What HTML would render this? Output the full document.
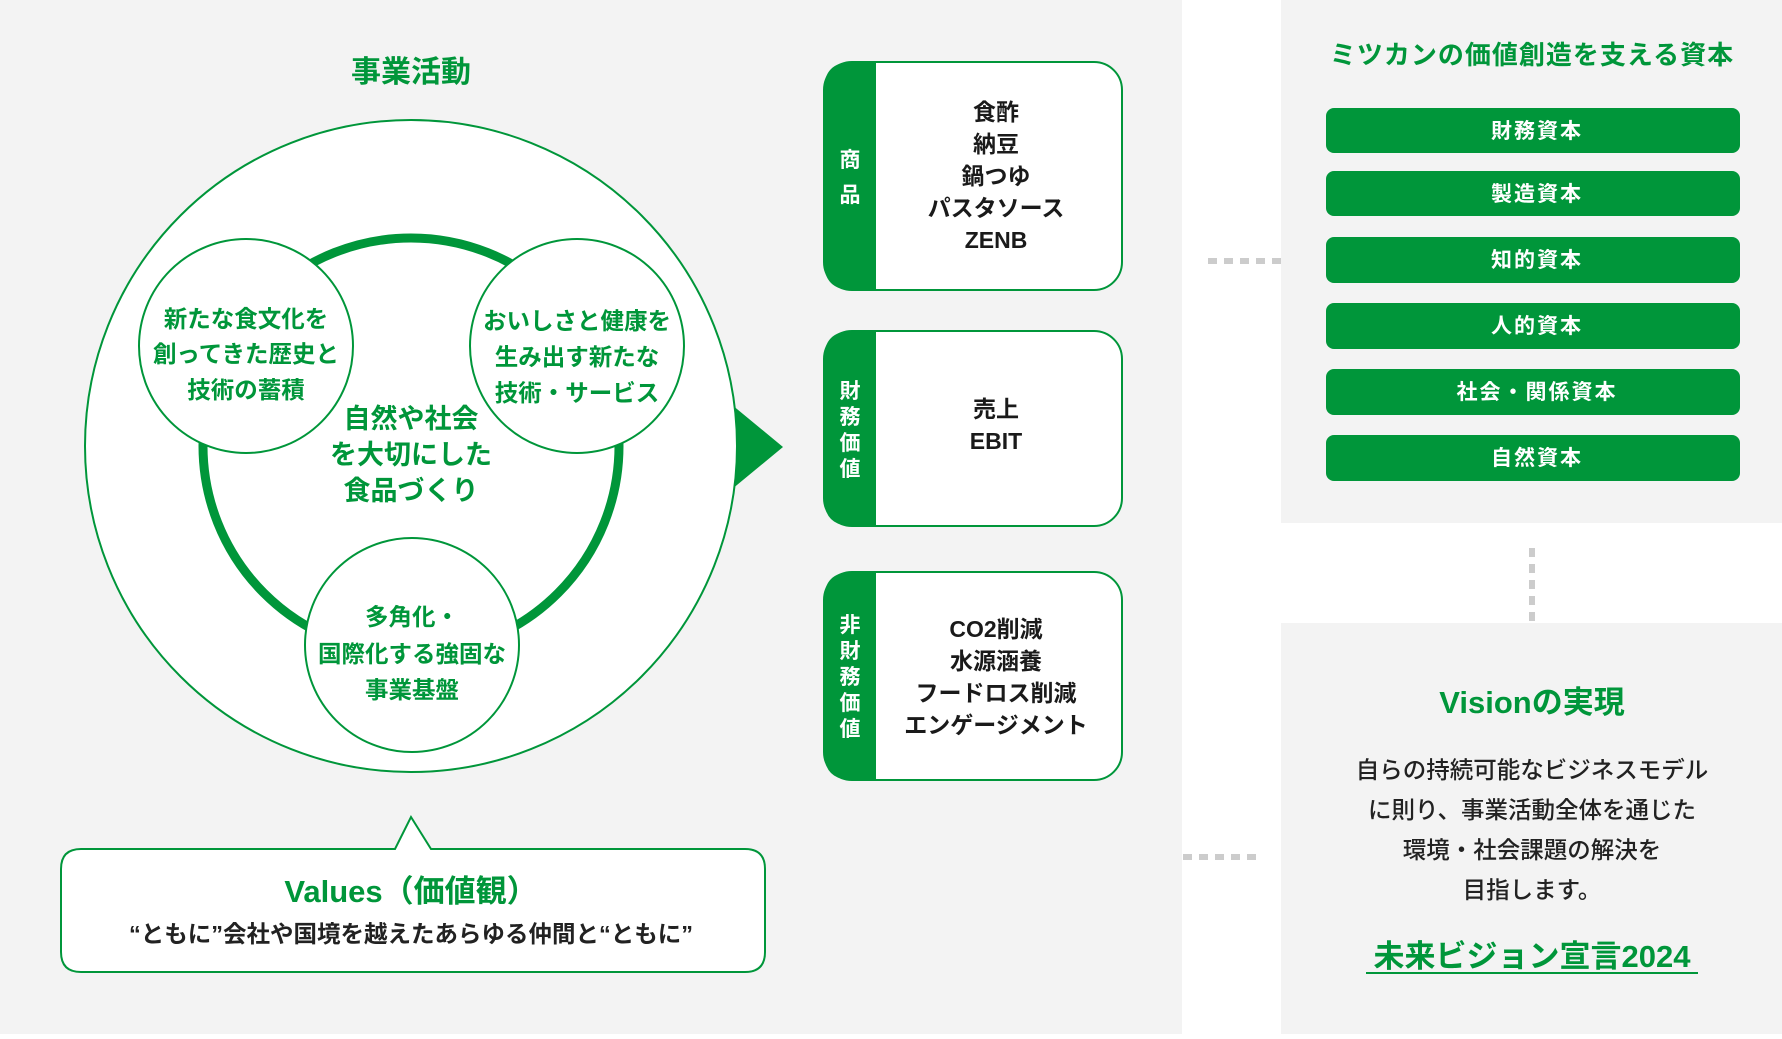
<!DOCTYPE html>
<html><head><meta charset="utf-8"><style>
html,body{margin:0;padding:0;}
body{width:1782px;height:1034px;overflow:hidden;background:#fff;}
svg text{font-family:"Liberation Sans","Noto Sans CJK JP",sans-serif;font-weight:bold;}
</style></head><body>
<svg width="1782" height="1034" viewBox="0 0 1782 1034" xmlns="http://www.w3.org/2000/svg">
<rect x="0" y="0" width="1182" height="1034" fill="#f3f3f3"/>
<rect x="1281" y="0" width="501" height="523" fill="#f3f3f3"/>
<rect x="1281" y="623" width="501" height="411" fill="#f3f3f3"/>

<line x1="1208" y1="261" x2="1281" y2="261" stroke="#ccc" stroke-width="6" stroke-dasharray="9,7"/>
<line x1="1183" y1="857" x2="1256" y2="857" stroke="#ccc" stroke-width="6" stroke-dasharray="9,7"/>
<line x1="1532" y1="548" x2="1532" y2="621" stroke="#ccc" stroke-width="6" stroke-dasharray="9,7"/>

<text x="411" y="82" font-size="30" fill="#00963a" text-anchor="middle">事業活動</text>

<polygon points="720,395 783,447 720,499" fill="#00963a"/>
<circle cx="411" cy="446" r="326" fill="#fff" stroke="#00963a" stroke-width="2"/>
<circle cx="411" cy="446" r="208" fill="none" stroke="#00963a" stroke-width="9"/>

<circle cx="246" cy="346" r="107" fill="#fff" stroke="#00963a" stroke-width="2"/>
<circle cx="577" cy="346" r="107" fill="#fff" stroke="#00963a" stroke-width="2"/>
<circle cx="412" cy="645" r="107" fill="#fff" stroke="#00963a" stroke-width="2"/>

<g font-size="23.5" fill="#00963a" text-anchor="middle">
<text x="246" y="327">新たな食文化を</text>
<text x="246" y="362">創ってきた歴史と</text>
<text x="246" y="398">技術の蓄積</text>
<text x="577" y="329">おいしさと健康を</text>
<text x="577" y="365">生み出す新たな</text>
<text x="577" y="401">技術・サービス</text>
<text x="412" y="625">多角化・</text>
<text x="412" y="662">国際化する強固な</text>
<text x="412" y="698">事業基盤</text>
</g>
<g font-size="27" fill="#00963a" text-anchor="middle">
<text x="411" y="428">自然や社会</text>
<text x="411" y="464">を大切にした</text>
<text x="411" y="500">食品づくり</text>
</g>

<path d="M81,849 L395,849 L411,817 L431,849 L745,849 Q765,849 765,869 L765,952 Q765,972 745,972 L81,972 Q61,972 61,952 L61,869 Q61,849 81,849 Z" fill="#fff" stroke="#00963a" stroke-width="2"/>
<text x="411" y="902" font-size="31" fill="#00963a" text-anchor="middle">Values（価値観）</text>
<text x="411" y="942" font-size="23.5" fill="#222" text-anchor="middle">“ともに”会社や国境を越えたあらゆる仲間と“ともに”</text>

<g>
<rect x="824" y="62" width="298" height="228" rx="28" fill="#fff" stroke="#00963a" stroke-width="2"/>
<path d="M876,62 L852,62 Q824,62 824,90 L824,262 Q824,290 852,290 L876,290 Z" fill="#00963a"/>
<rect x="824" y="331" width="298" height="195" rx="28" fill="#fff" stroke="#00963a" stroke-width="2"/>
<path d="M876,331 L852,331 Q824,331 824,359 L824,498 Q824,526 852,526 L876,526 Z" fill="#00963a"/>
<rect x="824" y="572" width="298" height="208" rx="28" fill="#fff" stroke="#00963a" stroke-width="2"/>
<path d="M876,572 L852,572 Q824,572 824,600 L824,752 Q824,780 852,780 L876,780 Z" fill="#00963a"/>
</g>
<g font-size="21" fill="#fff" text-anchor="middle">
<text x="850" y="167">商</text>
<text x="850" y="202">品</text>
<text x="850" y="398">財</text>
<text x="850" y="424">務</text>
<text x="850" y="450">価</text>
<text x="850" y="476">値</text>
<text x="850" y="632">非</text>
<text x="850" y="658">財</text>
<text x="850" y="684">務</text>
<text x="850" y="710">価</text>
<text x="850" y="736">値</text>
</g>
<g font-size="23" fill="#1a1a1a" text-anchor="middle">
<text x="996" y="120">食酢</text>
<text x="996" y="152">納豆</text>
<text x="996" y="184">鍋つゆ</text>
<text x="996" y="216">パスタソース</text>
<text x="996" y="248">ZENB</text>
<text x="996" y="417">売上</text>
<text x="996" y="449">EBIT</text>
<text x="996" y="637">CO2削減</text>
<text x="996" y="669">水源涵養</text>
<text x="996" y="701">フードロス削減</text>
<text x="996" y="733">エンゲージメント</text>
</g>

<text x="1532" y="64" font-size="26" fill="#00963a" text-anchor="middle" letter-spacing="1">ミツカンの価値創造を支える資本</text>
<g fill="#00963a">
<rect x="1326" y="108" width="414" height="45" rx="8"/>
<rect x="1326" y="171" width="414" height="45" rx="8"/>
<rect x="1326" y="237" width="414" height="46" rx="8"/>
<rect x="1326" y="303" width="414" height="46" rx="8"/>
<rect x="1326" y="369" width="414" height="46" rx="8"/>
<rect x="1326" y="435" width="414" height="46" rx="8"/>
</g>
<g font-size="21" fill="#fff" text-anchor="middle" letter-spacing="2">
<text x="1537" y="138">財務資本</text>
<text x="1537" y="201">製造資本</text>
<text x="1537" y="267">知的資本</text>
<text x="1537" y="333">人的資本</text>
<text x="1537" y="399">社会・関係資本</text>
<text x="1537" y="465">自然資本</text>
</g>

<text x="1532" y="713" font-size="31" fill="#00963a" text-anchor="middle">Visionの実現</text>
<g font-size="23.5" fill="#222" text-anchor="middle">
<text x="1532" y="778" style="font-weight:500">自らの持続可能なビジネスモデル</text>
<text x="1532" y="818" style="font-weight:500">に則り、事業活動全体を通じた</text>
<text x="1532" y="858" style="font-weight:500">環境・社会課題の解決を</text>
<text x="1532" y="898" style="font-weight:500">目指します。</text>
</g>
<text x="1532" y="967" font-size="31" fill="#00963a" text-anchor="middle">未来ビジョン宣言2024</text>
<line x1="1366" y1="973" x2="1698" y2="973" stroke="#00963a" stroke-width="2"/>
</svg>
</body></html>
